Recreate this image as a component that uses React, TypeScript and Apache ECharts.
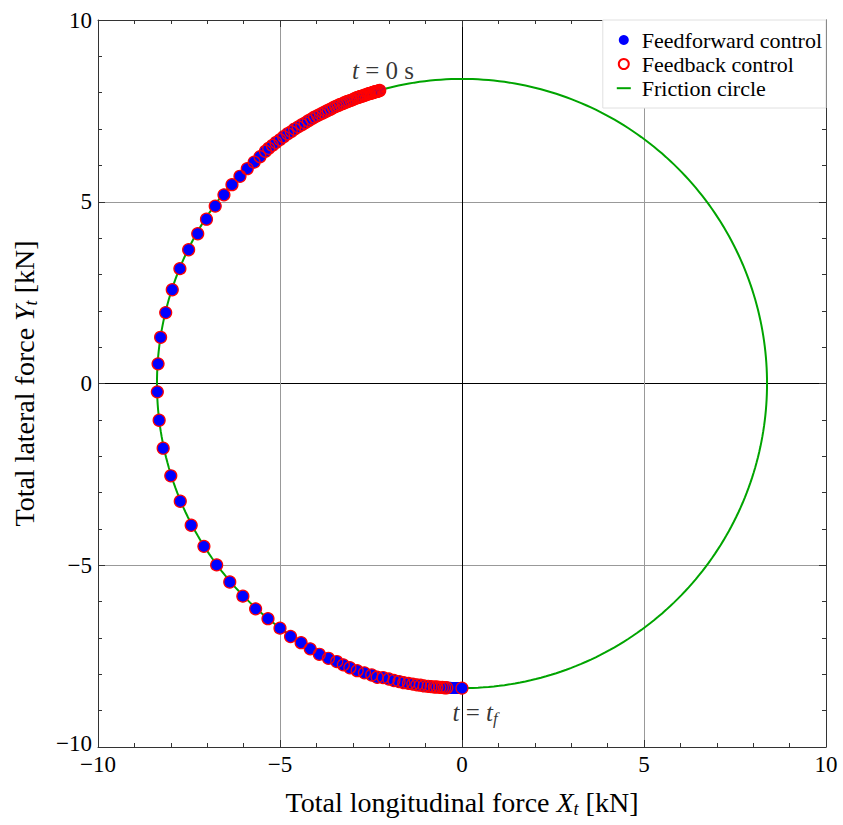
import React, { useEffect, useRef } from "react";
import * as echarts from "echarts";

const AXIS_MIN = -10;
const AXIS_MAX = 10;
const AXIS_INTERVAL = 5;
const FRICTION_RADIUS = 8.38;

// Trajectory points (t = 0 first)
const ARC_START: [number, number][] = [
  [-2.26, 8.06], [-2.29, 8.05], [-2.32, 8.04], [-2.35, 8.03], [-2.38, 8.03], [-2.41, 8.02],
  [-2.43, 8.01], [-2.46, 8.0], [-2.49, 7.99], [-2.53, 7.98], [-2.56, 7.97], [-2.6, 7.96],
  [-2.64, 7.94], [-2.68, 7.93], [-2.73, 7.91], [-2.77, 7.9], [-2.81, 7.89], [-2.85, 7.87],
  [-2.89, 7.86], [-2.94, 7.84], [-3.0, 7.81], [-3.05, 7.79], [-3.11, 7.77], [-3.16, 7.75],
  [-3.22, 7.73], [-3.27, 7.7], [-3.34, 7.68], [-3.4, 7.65], [-3.47, 7.62], [-3.54, 7.59],
  [-3.6, 7.55], [-3.67, 7.52], [-3.73, 7.49], [-3.81, 7.45], [-3.89, 7.41], [-3.97, 7.37],
  [-4.05, 7.33], [-4.13, 7.28], [-4.22, 7.23], [-4.31, 7.17], [-4.4, 7.12], [-4.5, 7.06],
  [-4.6, 7.0], [-4.69, 6.93], [-4.79, 6.87], [-4.9, 6.79], [-5.0, 6.71], [-5.11, 6.63],
  [-5.21, 6.55], [-5.31, 6.47], [-5.4, 6.39],
];

const ARC_MIDDLE: [number, number][] = [
  [-5.55, 6.24], [-5.71, 6.09], [-5.9, 5.91], [-6.1, 5.7], [-6.32, 5.47], [-6.54, 5.19],
  [-6.78, 4.88], [-7.02, 4.52], [-7.26, 4.12], [-7.51, 3.68], [-7.75, 3.16], [-7.96, 2.58],
  [-8.14, 1.95], [-8.28, 1.27], [-8.35, 0.54], [-8.37, -0.23], [-8.32, -1.01], [-8.21, -1.78],
  [-8.0, -2.54], [-7.74, -3.24], [-7.44, -3.9], [-7.09, -4.48], [-6.74, -4.99], [-6.38, -5.46],
  [-6.02, -5.85], [-5.67, -6.2], [-5.33, -6.47], [-5.0, -6.73], [-4.71, -6.96], [-4.42, -7.13],
  [-4.17, -7.3], [-3.92, -7.45], [-3.67, -7.56], [-3.44, -7.65], [-3.26, -7.74], [-3.08, -7.82],
  [-2.88, -7.9], [-2.68, -7.96], [-2.48, -8.02], [-2.33, -8.08],
];

const ARC_END: [number, number][] = [
  [-2.17, -8.09], [-2.01, -8.13], [-1.87, -8.17], [-1.73, -8.2], [-1.6, -8.23], [-1.47, -8.25],
  [-1.35, -8.27], [-1.24, -8.29], [-1.14, -8.3], [-1.04, -8.32], [-0.93, -8.33], [-0.85, -8.34],
  [-0.76, -8.35], [-0.69, -8.35], [-0.61, -8.36], [-0.54, -8.36], [-0.48, -8.37], [-0.42, -8.37],
];

const FEEDFORWARD_TAIL: [number, number][] = [
  [-0.37, -8.37], [-0.32, -8.37], [-0.28, -8.38], [-0.23, -8.38], [-0.19, -8.38], [-0.15, -8.38],
  [-0.11, -8.38], [-0.07, -8.38], [-0.04, -8.38], [0.0, -8.38],
];

const FEEDBACK_TAIL: [number, number][] = [[0.0, -8.38]];

const ANNOTATIONS: [number, number, string][] = [
  [-2.17, 8.6, "start"],
  [0.36, -9.05, "end"],
];

const LEGEND_NAMES = ["Feedforward control", "Feedback control", "Friction circle"];

const FONT = "'Liberation Serif', 'Times New Roman', serif";

const feedforward = [...ARC_START, ...ARC_MIDDLE, ...ARC_END, ...FEEDFORWARD_TAIL];
const feedback = [...ARC_START, ...ARC_MIDDLE, ...ARC_END, ...FEEDBACK_TAIL];

const frictionCircle: [number, number][] = [];
for (let deg = 0; deg <= 360; deg += 1) {
  const a = (deg * Math.PI) / 180;
  frictionCircle.push([FRICTION_RADIUS * Math.cos(a), FRICTION_RADIUS * Math.sin(a)]);
}

const fmt = (v: number) => (v < 0 ? "\u2212" + Math.abs(v) : String(v));

const TITLE_SIZE = 28;

const richName = {
  i: { fontFamily: FONT, fontSize: TITLE_SIZE, fontStyle: "italic", color: "#000" },
  s: { fontFamily: FONT, fontSize: 18, fontStyle: "italic", color: "#000", padding: [13, 0, 0, 0] },
};

const frameColor = "#333";

function makeAxis(dim: "x" | "y", pos: string, main: boolean, nameText: string) {
  return {
    type: "value",
    min: AXIS_MIN,
    max: AXIS_MAX,
    interval: AXIS_INTERVAL,
    position: pos,
    name: main ? nameText : "",
    nameLocation: "middle",
    nameGap: dim === "x" ? 40 : 58,
    nameRotate: dim === "y" ? 90 : 0,
    nameTextStyle: {
      fontFamily: FONT,
      fontSize: TITLE_SIZE,
      color: "#000",
      rich: richName,
    },
    axisLine: { show: true, onZero: false, lineStyle: { color: frameColor, width: 1 } },
    axisTick: { show: true, inside: true, length: 7, lineStyle: { color: frameColor, width: 1 } },
    minorTick: { show: true, splitNumber: 5, length: 4, lineStyle: { color: frameColor, width: 1 } },
    axisLabel: {
      show: main,
      formatter:
        dim === "y"
          ? (v: number) => (v === AXIS_MIN ? "{m|" + fmt(v) + "}" : fmt(v))
          : fmt,
      fontFamily: FONT,
      fontSize: 23,
      color: "#000",
      margin: 6,
      rich: {
        m: { fontFamily: FONT, fontSize: 23, color: "#000", padding: [0, 0, 8, 0] },
      },
    },
    splitLine: {
      show: main,
      lineStyle: { color: ["#999", "#999", "#000", "#999", "#999"], width: 1 },
    },
  };
}

export default function App() {
  const ref = useRef<HTMLDivElement>(null);
  useEffect(() => {
    if (!ref.current) return;
    const chart = echarts.init(ref.current, undefined, { renderer: "svg" });
    const option: any = {
      animation: false,
      backgroundColor: "#fff",
      textStyle: { fontFamily: FONT },
      grid: { left: 98, right: 17, top: 20, bottom: 78, containLabel: false },
      xAxis: [
        makeAxis("x", "bottom", true, "Total longitudinal force {i|X}{s|t} [kN]"),
        makeAxis("x", "top", false, ""),
      ],
      yAxis: [
        makeAxis("y", "left", true, "Total lateral force {i|Y}{s|t} [kN]"),
        makeAxis("y", "right", false, ""),
      ],
      legend: {
        orient: "vertical",
        right: 17,
        top: 20,
        backgroundColor: "#fff",
        borderColor: "#e0e0e0",
        borderWidth: 1,
        padding: [9, 4, 9, 14],
        itemWidth: 14,
        itemHeight: 10,
        itemGap: 2,
        textStyle: { fontFamily: FONT, fontSize: 22, color: "#000", padding: [0, 0, 0, 6] },
        data: [
          { name: LEGEND_NAMES[0], icon: "circle" },
          { name: LEGEND_NAMES[1], icon: "circle" },
          { name: LEGEND_NAMES[2], icon: "path://M0,0 M0,4.2 L14,4.2 L14,6.2 L0,6.2 Z M14,10" },
        ],
      },
      series: [
        {
          name: LEGEND_NAMES[2],
          type: "line",
          data: frictionCircle,
          symbol: "none",
          smooth: false,
          lineStyle: { color: "#00a400", width: 2 },
          itemStyle: { color: "#00a400" },
          z: 2,
          silent: true,
        },
        {
          name: LEGEND_NAMES[0],
          type: "scatter",
          data: feedforward,
          symbol: "circle",
          symbolSize: 12,
          itemStyle: { color: "#0000ff", opacity: 1 },
          z: 3,
          silent: true,
        },
        {
          name: LEGEND_NAMES[1],
          type: "scatter",
          data: feedback,
          symbol: "circle",
          symbolSize: 12,
          itemStyle: { color: "rgba(255,0,0,0)", borderColor: "#ff0000", borderWidth: 1.2, opacity: 1 },
          z: 4,
          silent: true,
        },
        {
          name: "annotations",
          type: "scatter",
          data: ANNOTATIONS,
          symbolSize: 0,
          silent: true,
          z: 5,
          label: {
            show: true,
            position: "inside",
            fontFamily: FONT,
            fontSize: 25,
            color: "#000",
            formatter: (p: any) =>
              p.data[2] === "start" ? "{i|t} = 0 s" : "{i|t} = {i|t}{s|f}",
            rich: {
              i: { fontFamily: FONT, fontSize: 25, fontStyle: "italic", color: "#000" },
              s: { fontFamily: FONT, fontSize: 17, fontStyle: "italic", color: "#000", padding: [12, 0, 0, 0] },
            },
          },
        },
      ],
    };
    chart.setOption(option);
    return () => chart.dispose();
  }, []);
  return (
    <div
      ref={ref}
      style={{ position: "fixed", left: 0, top: 0, width: 843, height: 825, background: "#fff" }}
    />
  );
}
